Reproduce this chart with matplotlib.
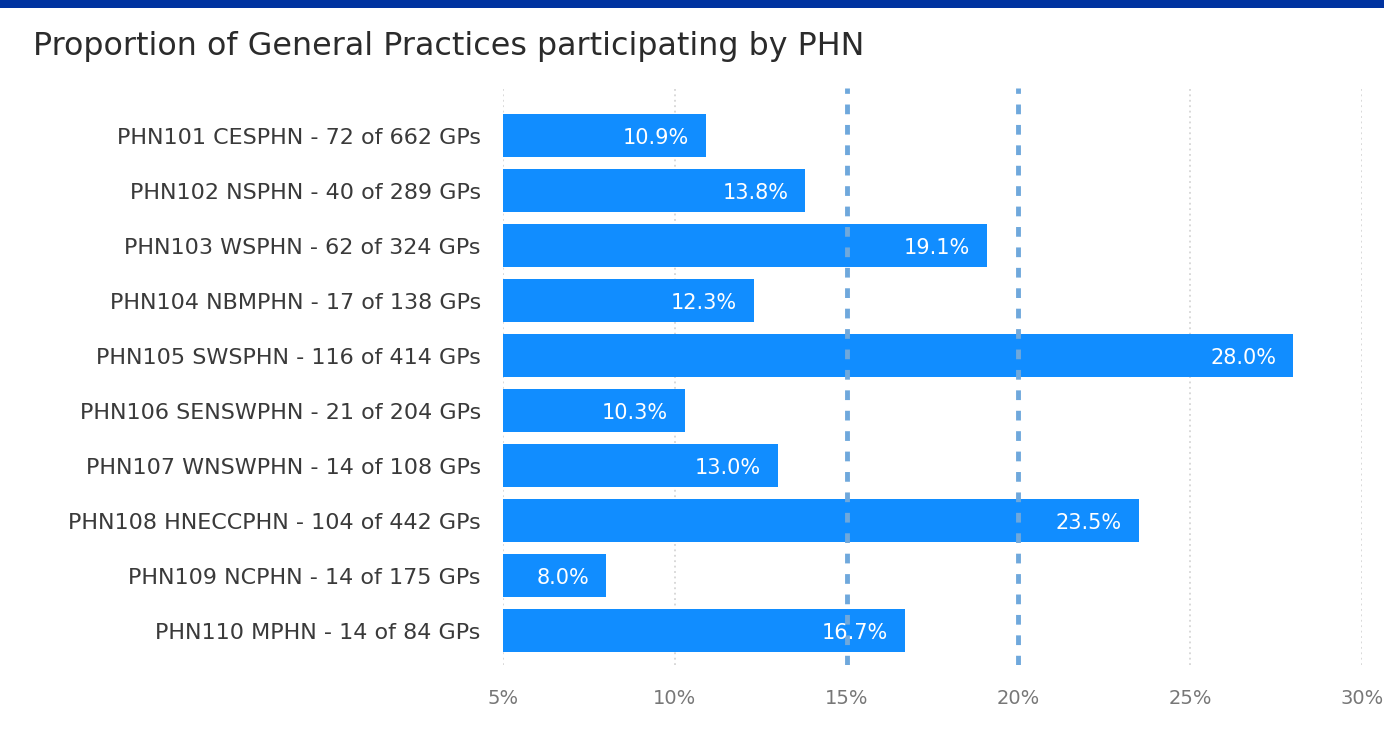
import matplotlib
matplotlib.use("Agg")
import matplotlib.pyplot as plt
from matplotlib.patches import Rectangle

categories = [
    "PHN101 CESPHN - 72 of 662 GPs",
    "PHN102 NSPHN - 40 of 289 GPs",
    "PHN103 WSPHN - 62 of 324 GPs",
    "PHN104 NBMPHN - 17 of 138 GPs",
    "PHN105 SWSPHN - 116 of 414 GPs",
    "PHN106 SENSWPHN - 21 of 204 GPs",
    "PHN107 WNSWPHN - 14 of 108 GPs",
    "PHN108 HNECCPHN - 104 of 442 GPs",
    "PHN109 NCPHN - 14 of 175 GPs",
    "PHN110 MPHN - 14 of 84 GPs",
]
values = [10.9, 13.8, 19.1, 12.3, 28.0, 10.3, 13.0, 23.5, 8.0, 16.7]
xticks = [5, 10, 15, 20, 25, 30]
ref_lines = [15, 20]
title = "Proportion of General Practices participating by PHN"

FONT = "DejaVu Sans"

fig = plt.figure(figsize=(13.84, 7.38), dpi=100)
fig.patch.set_facecolor("white")
renderer = fig.canvas.get_renderer()


def fit(text_artist, target_px):
    fs = text_artist.get_fontsize()
    w = text_artist.get_window_extent(renderer).width
    text_artist.set_fontsize(fs * target_px / w)


fig.add_artist(Rectangle((0, 1 - 8 / 738), 1, 8 / 738, transform=fig.transFigure,
                         facecolor="#0033a0", edgecolor="none"))
t = fig.text(33 / 1384, 1 - 47 / 738, title, fontsize=20, family=FONT,
             color="#2b2b2b", va="center", ha="left")
fit(t, 829)

ax = fig.add_axes([503 / 1384, 1 - 665 / 738, (1362 - 503) / 1384, (665 - 88) / 738])
y = list(range(len(categories)))
ax.barh(y, [v - 5 for v in values], left=5, height=0.78, color="#118DFF", zorder=2)
ax.set_xlim(5, 30)
ax.set_ylim(9.62, -0.87)
ax.set_yticks(y)
ax.set_yticklabels(categories, fontsize=16, family=FONT, color="#3a3a3a")
ax.set_xticks(xticks)
ax.set_xticklabels([f"{t}%" for t in xticks], fontsize=14, family=FONT, color="#777777")
ax.tick_params(axis="both", length=0)
ax.tick_params(axis="y", pad=16)
ax.tick_params(axis="x", pad=17)
for s in ax.spines.values():
    s.set_visible(False)
for tk in xticks:
    if tk in ref_lines:
        ax.axvline(tk, color="#6fa8dc", linestyle=(0, (2, 2.2)), linewidth=3.5, zorder=3)
    else:
        ax.axvline(tk, color="#d5d5d5", linestyle=(0, (1, 2)), linewidth=1.3, zorder=1)
for yi, v in zip(y, values):
    ax.text(v - 0.5, yi + 0.03, f"{v:.1f}%", color="white", fontsize=15,
            family=FONT, ha="right", va="center", zorder=4)

fig.savefig("out.png", dpi=100)
